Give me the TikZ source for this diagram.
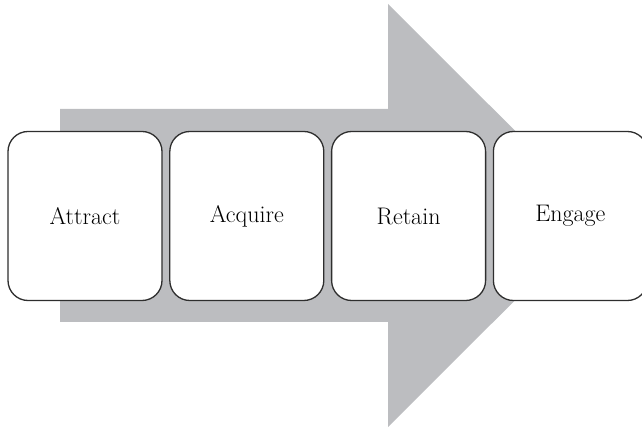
\documentclass[tikz,border=0pt]{standalone}
\usetikzlibrary{positioning}

\definecolor{arrowgrey}{HTML}{BCBDC0}
\definecolor{boxline}{HTML}{2E2E2E}

\tikzset{
    stage/.style={draw=boxline, line width=1.3pt, fill=white, rounded corners=20pt,
        minimum width=154pt, minimum height=169pt, inner sep=0pt,
        font=\fontsize{24}{28}\selectfont}
}

\begin{document}
\begin{tikzpicture}[x=1pt, y=1pt]
            \useasboundingbox (0,0) rectangle (642,428);

            % big arrow behind the stages
            \fill[arrowgrey] (60,319) -- (388,319) -- (388,424) -- (600,212.5)
                -- (388,1) -- (388,106) -- (60,106) -- cycle;

            \node[stage] (attract) at (85,212) {Attract};
            \node[stage, right=6.5pt of attract] (acquire) {Acquire};
            \node[stage, right=6.5pt of acquire] (retain) {Retain};
            \node[stage, right=6.5pt of retain] (engage) {Engage};
        \end{tikzpicture}
\end{document}
